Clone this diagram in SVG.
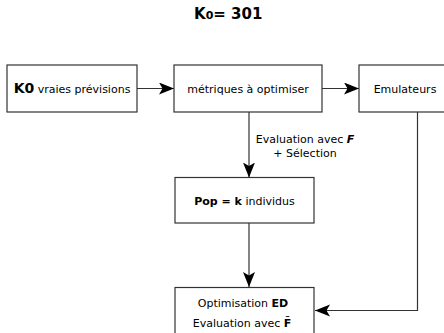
<svg xmlns="http://www.w3.org/2000/svg" width="444" height="333" viewBox="0 0 444 333">
<style>
.box{fill:#fff;stroke:#333;stroke-width:1.2}
.t{font-family:"DejaVu Sans",sans-serif;font-size:11px;fill:#000}
.b{font-weight:bold}
.c{fill:none;stroke:#333;stroke-width:1.2}
</style>
<defs>
<marker id="ah" markerUnits="userSpaceOnUse" markerWidth="18" markerHeight="14" refX="15" refY="6" orient="auto">
<path d="M0,0 L15,6 L0,12 L3.5,6 z" fill="#000"/>
</marker>
</defs>
<rect width="444" height="333" fill="#fff"/>
<text class="t b" x="194" y="18.5" style="font-size:15px">K<tspan style="font-size:11px">0</tspan>= 301</text>
<g id="connectors">
<line class="c" x1="137" y1="88.5" x2="174" y2="88.5" marker-end="url(#ah)"/>
<line class="c" x1="322" y1="88.5" x2="359" y2="88.5" marker-end="url(#ah)"/>
<line class="c" x1="249" y1="112" x2="249" y2="177.5" marker-end="url(#ah)"/>
<line class="c" x1="249" y1="223" x2="249" y2="287" marker-end="url(#ah)"/>
<polyline class="c" points="417.5,112 417.5,310.5 315,310.5" marker-end="url(#ah)"/>
<text class="t" x="305" y="143" text-anchor="middle">Evaluation avec <tspan class="b" font-style="italic">F</tspan></text>
<text class="t" x="305" y="156.5" text-anchor="middle">+ Sélection</text>
</g>
<g id="n1">
<rect class="box" x="7" y="65" width="130" height="47"/>
<text class="t" x="72" y="93" text-anchor="middle"><tspan class="b" style="font-size:14px">K0</tspan> vraies prévisions</text>
</g>
<g id="n2">
<rect class="box" x="174" y="65" width="148" height="47"/>
<text class="t" x="248" y="92.5" text-anchor="middle">métriques à optimiser</text>
</g>
<g id="n3">
<rect class="box" x="359" y="65" width="92" height="47"/>
<text class="t" x="405" y="92.5" text-anchor="middle">Emulateurs</text>
</g>
<g id="n4">
<rect class="box" x="175" y="177.5" width="139" height="45.5"/>
<text class="t" x="244.5" y="204.5" text-anchor="middle"><tspan class="b">Pop = k</tspan> individus</text>
</g>
<g id="n5">
<rect class="box" x="175" y="287.5" width="139" height="60"/>
<text class="t" x="243" y="306.5" text-anchor="middle">Optimisation <tspan class="b">ED</tspan></text>
<text class="t" x="242" y="326.5" text-anchor="middle">Evaluation avec <tspan class="b">F̃</tspan></text>
</g>
</svg>
